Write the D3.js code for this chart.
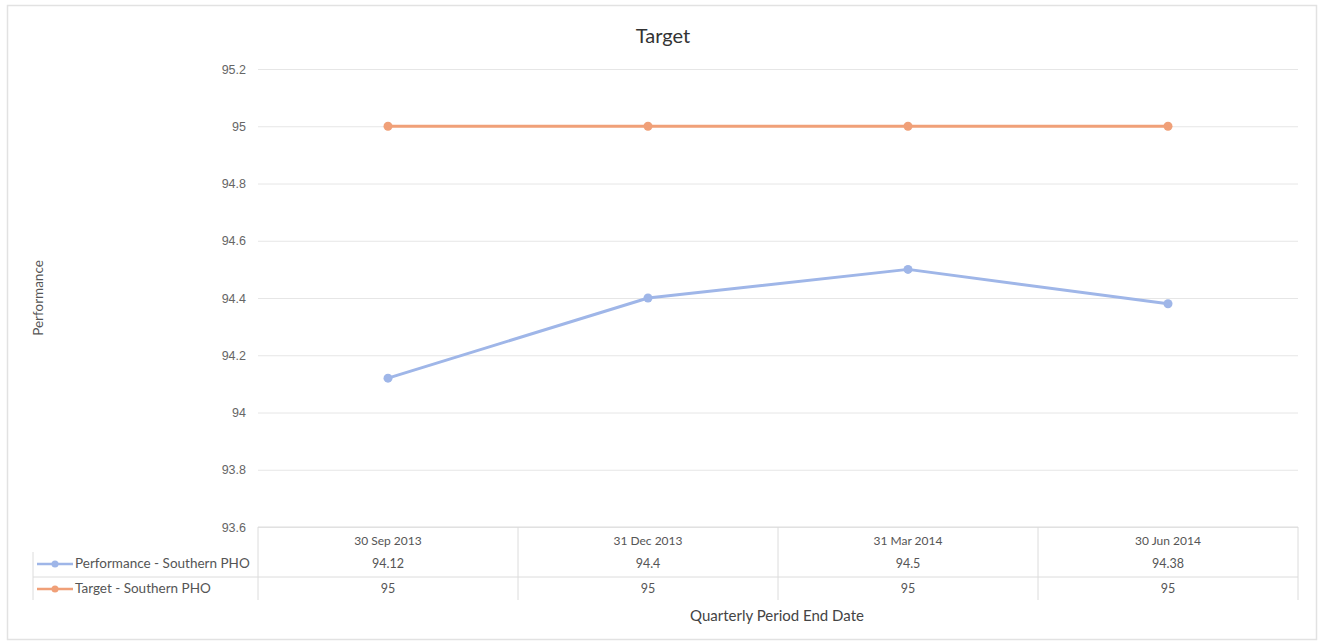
<!DOCTYPE html>
<html>
<head>
<meta charset="utf-8">
<script src="https://cdn.jsdelivr.net/npm/d3@7"></script>
<style>
  html, body { margin: 0; padding: 0; background: #fff; }
  svg { display: block; font-family: Lato, "Open Sans", sans-serif; }
</style>
</head>
<body>
<svg id="chart" width="1320" height="643"></svg>
<script>
// Quarterly results for Southern PHO
const quarters = ["30 Sep 2013", "31 Dec 2013", "31 Mar 2014", "30 Jun 2014"];
const performanceValues = [94.12, 94.4, 94.5, 94.38];
const targetValues = [95, 95, 95, 95];
const yTicks = [93.6, 93.8, 94, 94.2, 94.4, 94.6, 94.8, 95, 95.2];
const seriesNames = ["Performance - Southern PHO", "Target - Southern PHO"];

const series = [
  { name: seriesNames[0], values: performanceValues, color: "#9fb6e8" },
  { name: seriesNames[1], values: targetValues, color: "#f0a078" }
];

const svg = d3.select("#chart");
const plotLeft = 258, plotRight = 1298, plotTop = 69, plotBottom = 527;

// outer frame
svg.append("rect")
  .attr("x", 7.5).attr("y", 5.5).attr("width", 1309).attr("height", 634)
  .attr("fill", "none").attr("stroke", "#e2e2e2").attr("stroke-width", 1.5);

const x = d3.scaleBand().domain(quarters).range([plotLeft, plotRight]);
const y = d3.scaleLinear().domain([93.6, 95.2]).range([plotBottom, plotTop]);

// gridlines and y labels
const yAxis = d3.axisLeft(y).tickValues(yTicks).tickSize(-(plotRight - plotLeft)).tickFormat(d3.format("~g"));
const gy = svg.append("g").attr("transform", `translate(${plotLeft},0)`).call(yAxis);
gy.select(".domain").remove();
gy.selectAll(".tick line").attr("stroke", "#e6e6e6").attr("stroke-width", 1);
gy.selectAll(".tick text").attr("x", -12).attr("fill", "#666").attr("font-size", 12.5);

// title
svg.append("text").attr("x", 663).attr("y", 43).attr("text-anchor", "middle")
  .attr("font-size", 20).attr("fill", "#333").text("Target");

// y title
svg.append("text").attr("transform", "translate(43,298) rotate(-90)")
  .attr("text-anchor", "middle").attr("font-size", 13.5).attr("fill", "#555").text("Performance");

// x title
svg.append("text").attr("x", 777).attr("y", 621).attr("text-anchor", "middle")
  .attr("font-size", 15).attr("fill", "#444").text("Quarterly Period End Date");

// data table
const rowTop = plotBottom, rowH = [25, 25, 23];
const tableBottom = rowTop + rowH[0] + rowH[1] + rowH[2];
const tbl = svg.append("g").attr("stroke", "#dcdcdc").attr("stroke-width", 1);
x.domain().forEach(q => {
  tbl.append("line").attr("x1", x(q)).attr("x2", x(q)).attr("y1", rowTop).attr("y2", tableBottom);
});
tbl.append("line").attr("x1", plotRight).attr("x2", plotRight).attr("y1", rowTop).attr("y2", tableBottom);
tbl.append("line").attr("x1", 33).attr("x2", 33).attr("y1", rowTop + rowH[0]).attr("y2", tableBottom);
tbl.append("line").attr("x1", plotLeft).attr("x2", plotRight).attr("y1", rowTop).attr("y2", rowTop);
tbl.append("line").attr("x1", 33).attr("x2", plotRight)
  .attr("y1", rowTop + rowH[0] + rowH[1]).attr("y2", rowTop + rowH[0] + rowH[1]);

const cx = q => x(q) + x.bandwidth() / 2;
svg.append("g").selectAll("text").data(quarters).join("text")
  .attr("x", cx).attr("y", rowTop + 18).attr("text-anchor", "middle")
  .attr("font-size", 12).attr("fill", "#555").text(d => d);

series.forEach((s, i) => {
  const ry = rowTop + rowH[0] + i * rowH[1] + 16;
  svg.append("g").selectAll("text").data(s.values).join("text")
    .attr("x", (d, j) => cx(quarters[j])).attr("y", ry).attr("text-anchor", "middle")
    .attr("font-size", 12.5).attr("fill", "#555").text(d => d);
  // legend key
  const ly = ry - 4;
  svg.append("line").attr("x1", 37).attr("x2", 73).attr("y1", ly).attr("y2", ly)
    .attr("stroke", s.color).attr("stroke-width", 2.5);
  svg.append("circle").attr("cx", 55).attr("cy", ly).attr("r", 3.5).attr("fill", s.color);
  svg.append("text").attr("x", 75).attr("y", ry).attr("font-size", 13.5)
    .attr("fill", "#555").text(s.name);
});

// series lines and markers
const line = d3.line().x((d, j) => cx(quarters[j])).y(d => y(d));
series.forEach(s => {
  svg.append("path").datum(s.values).attr("d", line)
    .attr("fill", "none").attr("stroke", s.color).attr("stroke-width", 3)
    .attr("stroke-linejoin", "round");
  svg.append("g").selectAll("circle").data(s.values).join("circle")
    .attr("cx", (d, j) => cx(quarters[j])).attr("cy", d => y(d))
    .attr("r", 4.5).attr("fill", s.color);
});
</script>
</body>
</html>
